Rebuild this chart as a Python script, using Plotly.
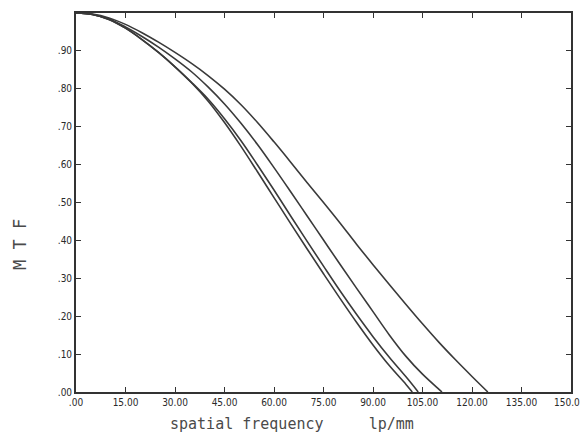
import plotly.graph_objects as go

# MTF curves (spatial frequency in lp/mm, modulation 0..1), one per field position
freq_a = [0, 5, 10, 15, 20, 25, 30, 35, 40, 45, 50, 55, 60, 65, 70, 75, 80, 85, 90, 95, 100, 101.9]
mtf_a = [1.0, .996, .983, .960, .930, .896, .858, .816, .768, .711, .648, .581, .513, .445, .378, .312, .247, .184, .124, .069, .020, 0.0]

freq_b = [0, 5, 10, 15, 20, 25, 30, 35, 40, 45, 50, 55, 60, 65, 70, 75, 80, 85, 90, 95, 100, 103.7]
mtf_b = [1.0, .996, .983, .960, .930, .896, .858, .817, .773, .721, .663, .599, .533, .465, .398, .332, .267, .205, .146, .091, .040, 0.0]

freq_c = [0, 5, 10, 15, 20, 25, 30, 35, 40, 45, 50, 55, 60, 65, 70, 75, 80, 85, 90, 95, 100, 105, 110, 110.9]
mtf_c = [1.0, .996, .984, .963, .938, .910, .879, .845, .805, .760, .709, .653, .592, .529, .465, .401, .337, .274, .212, .150, .094, .047, .007, 0.0]

freq_d = [0, 5, 10, 15, 20, 25, 30, 35, 40, 45, 50, 55, 60, 65, 70, 75, 80, 85, 90, 95, 100, 105, 110, 115, 120, 124.8]
mtf_d = [1.0, .997, .987, .970, .948, .923, .896, .867, .835, .799, .758, .711, .660, .607, .553, .500, .446, .390, .336, .283, .231, .180, .131, .085, .041, 0.0]

x_tickvals = [0, 15, 30, 45, 60, 75, 90, 105, 120, 135, 150]
x_ticktext = [".00", "15.00", "30.00", "45.00", "60.00", "75.00", "90.00", "105.00", "120.00", "135.00", "150.0"]
y_tickvals = [0, .1, .2, .3, .4, .5, .6, .7, .8, .9]
y_ticktext = [".00", ".10", ".20", ".30", ".40", ".50", ".60", ".70", ".80", ".90"]

line_color = "#3a3a3a"
tick_font = dict(family="Liberation Sans Narrow, DejaVu Sans Condensed, Arial Narrow, sans-serif",
                 size=10, color="#2a2a2a")

fig = go.Figure()
for fx, fy in [(freq_a, mtf_a), (freq_b, mtf_b), (freq_c, mtf_c), (freq_d, mtf_d)]:
    fig.add_trace(go.Scatter(x=fx, y=fy, mode="lines",
                             line=dict(color=line_color, width=1.6, shape="spline", smoothing=1.0),
                             showlegend=False, hoverinfo="skip"))

# the last x label sits against the right edge, so it is placed right-aligned by hand
axis_ticktext = x_ticktext[:-1] + [""]
fig.update_xaxes(range=[0, 150], tickvals=x_tickvals, ticktext=axis_ticktext,
                 ticks="inside", ticklen=5, tickwidth=1.2, tickcolor="#333333",
                 showline=True, linecolor="#333333", linewidth=1.6, mirror="ticks",
                 showgrid=False, zeroline=False, tickfont=tick_font, automargin=False)
fig.update_yaxes(range=[0, 1], tickvals=y_tickvals, ticktext=y_ticktext,
                 ticks="inside", ticklen=5, tickwidth=1.2, tickcolor="#333333",
                 showline=True, linecolor="#333333", linewidth=1.8, mirror="ticks",
                 showgrid=False, zeroline=False, tickfont=tick_font, automargin=False)
fig.add_annotation(text=x_ticktext[-1], xref="paper", yref="paper", x=1, xshift=10,
                   y=0, yshift=-10, xanchor="right", yanchor="middle",
                   showarrow=False, font=tick_font, borderpad=0)

title_font = dict(family="DejaVu Sans Mono, monospace", size=15, color="#4a4a4a")
nb = "\u00a0"
fig.add_annotation(text="spatial" + nb + "frequency" + nb * 5 + "lp/mm",
                   xref="paper", yref="paper", x=0.436, y=-0.084,
                   xanchor="center", yanchor="middle", showarrow=False, font=title_font)
fig.add_annotation(text="M" + nb + "T" + nb + "F",
                   xref="paper", yref="paper", x=-0.113, y=0.388, textangle=-90,
                   xanchor="center", yanchor="middle", showarrow=False,
                   font=dict(family="DejaVu Sans Mono, monospace", size=17, color="#4a4a4a"))

fig.update_layout(width=581, height=441, margin=dict(l=76, r=10, t=13, b=49),
                  paper_bgcolor="white", plot_bgcolor="white")

fig.write_html("out.html")
